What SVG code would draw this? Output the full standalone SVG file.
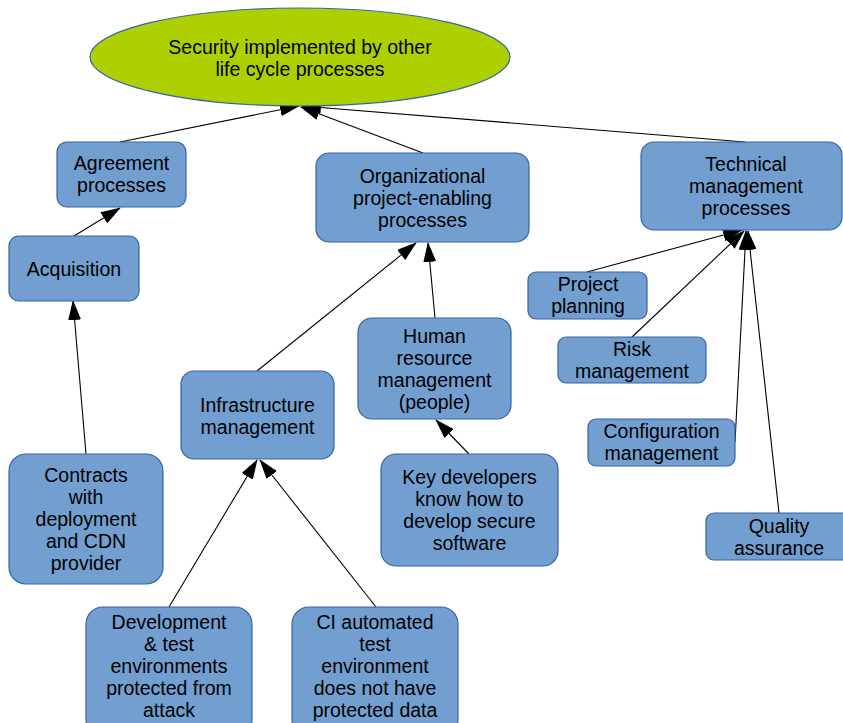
<svg xmlns="http://www.w3.org/2000/svg" width="843" height="723" viewBox="0 0 843 723">
<style>
.n{fill:#729fcf;stroke:#3465a4;stroke-width:1.2}
.e{fill:#aecf00;stroke:#3465a4;stroke-width:1.2}
text{font-family:"Liberation Sans",Arial,sans-serif;font-size:19.5px;fill:#000;text-anchor:middle}
.c line{stroke:#000;stroke-width:1.1;marker-end:url(#ah)}
</style>
<defs>
<marker id="ah" viewBox="0 0 20 13" refX="19" refY="6.5" markerWidth="20" markerHeight="13" markerUnits="userSpaceOnUse" orient="auto">
<path d="M0,0 L20,6.5 L0,13 z" fill="#000"/>
</marker>
</defs>
<rect width="843" height="723" fill="#fff"/>
<g class="c" id="connectors">
<line x1="120" y1="142" x2="299" y2="106"/>
<line x1="423" y1="153" x2="301" y2="107"/>
<line x1="745" y1="142" x2="302" y2="106"/>
<line x1="74" y1="236" x2="120" y2="208"/>
<line x1="86" y1="454" x2="73" y2="301"/>
<line x1="257" y1="371" x2="416" y2="243"/>
<line x1="435" y1="318" x2="428" y2="243"/>
<line x1="469" y1="454" x2="436" y2="420"/>
<line x1="169" y1="607" x2="257" y2="460"/>
<line x1="376" y1="607" x2="260" y2="460"/>
<line x1="587" y1="272" x2="742" y2="230"/>
<line x1="632" y1="337" x2="744" y2="231"/>
<line x1="735" y1="442" x2="746" y2="231"/>
<line x1="779" y1="513" x2="748" y2="231"/>
</g>
<g id="security">
<ellipse class="e" cx="300" cy="57" rx="210" ry="49"/>
<text x="300" y="54">Security implemented by other</text>
<text x="300" y="76">life cycle processes</text>
</g>
<g id="agreement">
<rect class="n" x="57" y="142" width="129" height="65" rx="10"/>
<text x="121.5" y="170">Agreement</text>
<text x="121.5" y="192">processes</text>
</g>
<g id="acquisition">
<rect class="n" x="9" y="236" width="130" height="65" rx="10"/>
<text x="74" y="276">Acquisition</text>
</g>
<g id="contracts">
<rect class="n" x="9" y="454" width="154" height="130" rx="17"/>
<text x="86" y="482">Contracts</text>
<text x="86" y="504">with</text>
<text x="86" y="526">deployment</text>
<text x="86" y="548">and CDN</text>
<text x="86" y="570">provider</text>
</g>
<g id="organizational">
<rect class="n" x="316" y="153" width="213" height="89" rx="13"/>
<text x="422.5" y="183">Organizational</text>
<text x="422.5" y="205">project-enabling</text>
<text x="422.5" y="227">processes</text>
</g>
<g id="infrastructure">
<rect class="n" x="181" y="371" width="153" height="88" rx="13"/>
<text x="257.5" y="412">Infrastructure</text>
<text x="257.5" y="434">management</text>
</g>
<g id="human">
<rect class="n" x="358" y="318" width="153" height="101" rx="14"/>
<text x="434.5" y="343">Human</text>
<text x="434.5" y="365">resource</text>
<text x="434.5" y="387">management</text>
<text x="434.5" y="409">(people)</text>
</g>
<g id="keydev">
<rect class="n" x="381" y="454" width="177" height="112" rx="15"/>
<text x="469.5" y="484">Key developers</text>
<text x="469.5" y="506">know how to</text>
<text x="469.5" y="528">develop secure</text>
<text x="469.5" y="550">software</text>
</g>
<g id="devtest">
<rect class="n" x="86" y="607" width="166" height="130" rx="17"/>
<text x="169" y="629">Development</text>
<text x="169" y="651">&amp; test</text>
<text x="169" y="673">environments</text>
<text x="169" y="695">protected from</text>
<text x="169" y="717">attack</text>
</g>
<g id="ci">
<rect class="n" x="292" y="607" width="166" height="130" rx="17"/>
<text x="375" y="629">CI automated</text>
<text x="375" y="651">test</text>
<text x="375" y="673">environment</text>
<text x="375" y="695">does not have</text>
<text x="375" y="717">protected data</text>
</g>
<g id="technical">
<rect class="n" x="641" y="142" width="201" height="88" rx="13"/>
<text x="746" y="171">Technical</text>
<text x="746" y="193">management</text>
<text x="746" y="215">processes</text>
</g>
<g id="project">
<rect class="n" x="528" y="272" width="119" height="47" rx="8"/>
<text x="588" y="291">Project</text>
<text x="588" y="313">planning</text>
</g>
<g id="risk">
<rect class="n" x="558" y="337" width="148" height="46" rx="8"/>
<text x="632" y="356">Risk</text>
<text x="632" y="378">management</text>
</g>
<g id="configuration">
<rect class="n" x="588" y="419" width="147" height="47" rx="8"/>
<text x="661.5" y="438">Configuration</text>
<text x="661.5" y="460">management</text>
</g>
<g id="quality">
<rect class="n" x="706" y="513" width="146" height="47" rx="8"/>
<text x="779" y="533">Quality</text>
<text x="779" y="555">assurance</text>
</g>
</svg>
